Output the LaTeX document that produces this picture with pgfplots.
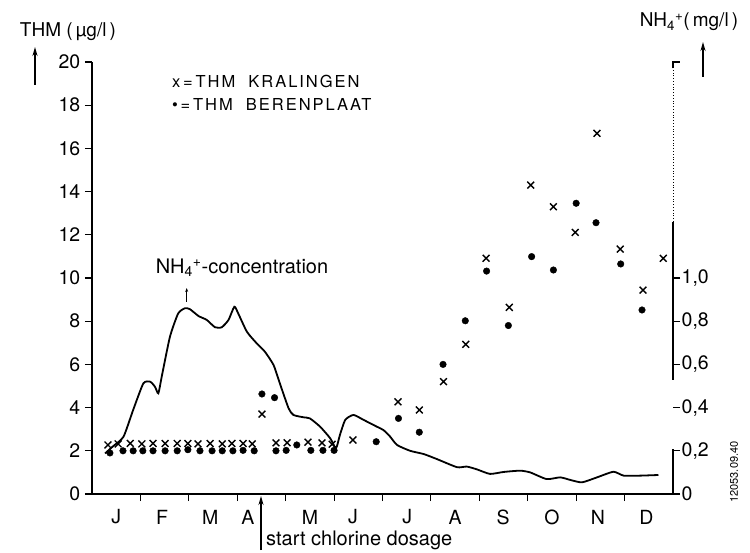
\documentclass[border=0pt]{standalone}
\usepackage{fontspec}
\setmainfont{TeX Gyre Heros}
\usepackage{pgfplots}
\pgfplotsset{compat=1.18}
\usetikzlibrary{arrows.meta}
\begin{document}
\begin{tikzpicture}[x=1pt,y=1pt]
\useasboundingbox (-92,-58) rectangle (658,494);
% ---------------- THM axis (left) ----------------
\begin{axis}[
  at={(0,0)}, anchor=south west,
  scale only axis, width=581pt, height=432pt,
  xmin=0, xmax=12, ymin=0, ymax=20,
  axis x line*=bottom, axis y line*=left,
  axis line style={line width=1.2pt},
  every tick/.style={line width=1.1pt, black},
  tick align=outside,
  major tick length=7pt,
  xtick={1,2,...,11}, xticklabels={},
  ytick={0,2,...,20},
  /pgf/number format/assume math mode=true,
  ticklabel style={font=\fontsize{19.5}{19.5}\selectfont},
  yticklabel style={inner sep=4.5pt},
  clip=false,
]
% Kralingen (crosses)
\addplot[only marks, mark=x, mark size=4.8pt, line width=1.4pt] coordinates {
(0.33,2.27) (0.54,2.32) (0.79,2.34) (1.03,2.32) (1.26,2.34) (1.51,2.34) (1.76,2.34)
(1.98,2.34) (2.19,2.32) (2.44,2.34) (2.69,2.32) (2.89,2.34) (3.12,2.34) (3.31,2.32)
(3.51,3.70) (3.80,2.37) (4.03,2.37) (4.46,2.40) (4.75,2.37) (4.96,2.30) (5.39,2.50)
(6.32,4.27) (6.76,3.89) (7.26,5.20) (7.72,6.93) (8.14,10.91) (8.62,8.64) (9.06,14.30)
(9.53,13.30) (9.98,12.11) (10.43,16.70) (10.91,11.34) (11.38,9.44) (11.80,10.91)
};
% Berenplaat (dots)
\addplot[only marks, mark=*, mark size=3.3pt] coordinates {
(0.37,1.90) (0.64,2.00) (0.85,2.00) (1.05,2.00) (1.26,2.00) (1.51,2.00) (1.76,2.00)
(1.98,2.05) (2.23,2.00) (2.48,2.00) (2.69,2.00) (2.91,2.00) (3.12,2.02) (3.35,2.00)
(3.51,4.63) (3.77,4.46) (3.80,2.00) (4.01,2.02) (4.23,2.27) (4.52,2.02) (4.77,2.02)
(5.00,2.02) (5.87,2.42) (6.33,3.50) (6.76,2.86) (7.25,6.00) (7.71,8.02) (8.15,10.32)
(8.60,7.80) (9.08,10.99) (9.53,10.37) (10.00,13.46) (10.41,12.56) (10.92,10.65)
(11.36,8.52)
};
% month names
\foreach \m/\lab in {0.50/J,1.45/F,2.44/M,3.22/A,4.50/M,5.39/J,6.51/J,7.50/A,8.49/S,9.50/O,10.45/N,11.45/D}{
  \edef\tmp{\noexpand\node[font=\noexpand\fontsize{19.5}{19.5}\noexpand\selectfont, yshift=-23pt] at (axis cs:\m,0) {\lab};}
  \tmp
}
\end{axis}
% ---------------- NH4 axis (right) ----------------
\begin{axis}[
  at={(0,0)}, anchor=south west,
  scale only axis, width=581pt, height=432pt,
  xmin=0, xmax=12, ymin=0, ymax=2,
  axis x line=none, axis y line*=right,
  y axis line style={draw=none},
  every tick/.style={line width=1.1pt, black},
  tick align=outside,
  major tick length=7pt,
  ytick={0,0.2,0.4,0.6,0.8,1.0},
  yticklabels={0,{0,2},{0,4},{0,6},{0,8},{1,0}},
  ticklabel style={font=\fontsize{19.5}{19.5}\selectfont},
  yticklabel style={inner sep=1.5pt},
  clip=false,
]
\addplot[smooth, tension=0.35, line width=1.8pt] coordinates {
(0.27,0.188) (0.43,0.220) (0.65,0.265) (0.85,0.389) (1.06,0.512) (1.20,0.520)
(1.30,0.497) (1.37,0.466) (1.44,0.543) (1.61,0.728) (1.78,0.836) (1.92,0.860)
(2.02,0.856) (2.20,0.824) (2.37,0.806) (2.54,0.772) (2.68,0.772) (2.82,0.806)
(2.94,0.867) (3.02,0.836) (3.20,0.751) (3.40,0.698) (3.57,0.659) (3.75,0.597)
(3.88,0.512) (4.06,0.397) (4.16,0.366) (4.37,0.355) (4.50,0.350) (4.71,0.312)
(4.92,0.258) (5.04,0.212) (5.12,0.273) (5.23,0.343) (5.40,0.366) (5.61,0.343)
(5.88,0.312) (6.02,0.296) (6.16,0.265) (6.30,0.227) (6.57,0.200) (6.85,0.185)
(7.12,0.162) (7.54,0.124) (7.74,0.127) (7.95,0.114) (8.22,0.093) (8.50,0.102)
(8.84,0.108) (9.05,0.100) (9.39,0.069) (9.67,0.077) (9.88,0.065) (10.12,0.054)
(10.43,0.077) (10.77,0.103) (10.98,0.085) (11.32,0.085) (11.70,0.088)
};
% broken right axis line
\draw[line width=1.2pt] (axis cs:12,0) -- (axis cs:12,0.21);
\draw[line width=1.2pt] (axis cs:12,0.53) -- (axis cs:12,1.26);
\draw[line width=0.8pt, dotted] (axis cs:12,1.26) -- (axis cs:12,1.97);
\draw[line width=1.1pt] (axis cs:12,1.97) -- (axis cs:12,2) -- ++(7pt,0);
\end{axis}
% ---------------- annotations ----------------
\node[font=\fontsize{19}{19}\selectfont] at (-24,462) {THM (\,µg/l\,)};
\draw[-{Stealth[length=9pt,width=5pt]}, line width=1.8pt] (-57,409) -- (-57,447);
\node[font=\fontsize{19}{19}\selectfont] at (597,472) {NH\textsubscript{4}\textsuperscript{+}(\,mg/l\,)};
\draw[-{Stealth[length=9pt,width=5pt]}, line width=1.8pt] (611,417) -- (611,452);
\node[anchor=west, inner sep=0pt, font=\fontsize{16.5}{16.5}\selectfont\addfontfeatures{LetterSpace=12}] at (80,413) {x\,=\,THM\ \ KRALINGEN};
\node[anchor=west, inner sep=0pt, font=\fontsize{16.5}{16.5}\selectfont\addfontfeatures{LetterSpace=12}] at (80,390) {\textbullet\,=\,THM\ \ BERENPLAAT};
\node[font=\fontsize{20}{20}\selectfont] at (150,226) {NH\textsubscript{4}\textsuperscript{+}-concentration};
\draw[-{Stealth[length=4pt,width=3pt]}, line width=0.8pt] (94.7,192) -- (94.7,206);
\node[anchor=west, inner sep=0pt, font=\fontsize{20}{20}\selectfont] at (174,-46) {start chlorine dosage};
\draw[-{Stealth[length=9pt,width=5pt]}, line width=1.3pt] (169,-56) -- (169,-2);
\node[rotate=90, font=\fontsize{11}{11}\selectfont] at (642,22) {12053.09.40};
\end{tikzpicture}
\end{document}
